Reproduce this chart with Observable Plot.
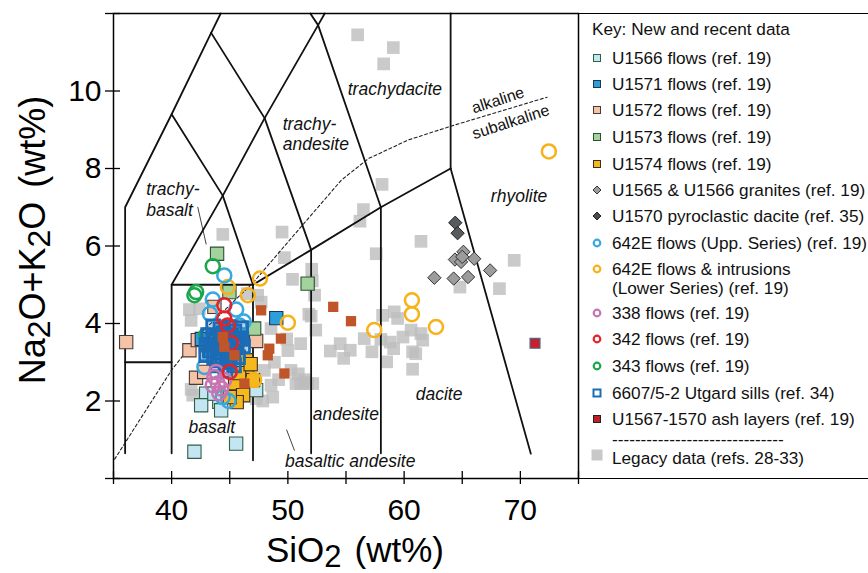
<!DOCTYPE html>
<html><head><meta charset="utf-8">
<script src="https://cdn.jsdelivr.net/npm/d3@7"></script>
<script src="https://cdn.jsdelivr.net/npm/@observablehq/plot@0.6"></script>
<style>
body{margin:0;background:#fff;}
#wrap{position:relative;width:868px;height:573px;overflow:hidden;font-family:"Liberation Sans",Arial,Helvetica,sans-serif;}
#legend{position:absolute;left:578px;top:13px;width:300px;height:466px;border-top:1.5px solid #000;border-bottom:1.5px solid #000;box-sizing:border-box;}
.item{position:absolute;left:34px;font-size:17.2px;line-height:20px;color:#111;white-space:nowrap;}
.sw{position:absolute;left:12px;}
</style></head><body><div id="wrap"></div>
<script>
// ---------- axes ----------
const xTicks = [35,40,45,50,55,60,65,70,75];
const xLabels = [40,50,60,70];
const yTicks = [0,2,4,6,8,10,12];
const yLabels = [2,4,6,8,10];

// ---------- TAS field boundaries (as drawn, SiO2, Na2O+K2O) ----------
const tasBoundaries = [
  [[36,0.65],[36,7],[40,9.4],[43.4,11.5],[44.22,12]],
  [[36,3],[40,3]],
  [[40,0.65],[40,5],[44.4,7.3],[48,9.3],[52.6,11.7],[53.17,12]],
  [[40,9.4],[44.4,7.3]],
  [[40,5],[47,5],[52,5.9],[58,7],[64,8]],
  [[44.4,7.3],[47,5]],
  [[48,9.3],[52,5.9]],
  [[43.4,11.5],[48,9.3]],
  [[51.93,12],[52.6,11.7],[58,7]],
  [[64,8],[64,12]],
  [[47,0.47],[47,5]],
  [[52,0.65],[52,5.9]],
  [[58,0.65],[58,7]],
  [[64,8],[70.9,0.64]]
];
const leaderLines = [
  [[42.25,7.0],[42.97,6.05]],
  [[49.9,1.25],[50.56,0.73]]
];
const alkalineLine = [[35.1,0.5],[40,2.8],[42.5,3.75],[47,5.05],[50,6.1],[54.6,7.7],[56.9,8.25],[60.3,8.73],[64,9.09],[72.3,9.84]];

const fieldLabels = [
  {t:"trachydacite", x:55.15, y:10.03},
  {t:"trachy-", x:49.56, y:9.13},
  {t:"andesite", x:49.56, y:8.61},
  {t:"trachy-", x:37.81, y:7.45},
  {t:"basalt", x:37.81, y:6.92},
  {t:"rhyolite", x:67.46, y:7.28},
  {t:"dacite", x:61.0, y:2.16},
  {t:"andesite", x:52.14, y:1.65},
  {t:"basaltic andesite", x:49.76, y:0.45},
  {t:"basalt", x:41.45, y:1.32}
];
const seriesLabels = [
  {t:"alkaline", x:68.07, y:9.76},
  {t:"subalkaline", x:69.18, y:9.2}
];

// ---------- data (SiO2 wt%, Na2O+K2O wt%) ----------
const legacy = [
  [56.0,11.45],[59.07,11.12],[58.24,10.70],
  [58.1,7.59],[56.5,6.94],[56.2,6.64],[61.45,6.12],[57.6,5.80],[52.05,5.40],[52.1,5.1],
  [69.47,5.63],[68.2,4.90],[64.8,4.94],
  [52.0,4.19],[59.15,4.30],[59.44,4.13],[58.15,4.21],[52.4,3.83],[51.1,3.48],
  [56.57,3.61],[54.5,3.48],[53.65,3.29],[55.37,3.31],[54.8,3.10],[57.23,3.27],[58.0,3.59],
  [58.8,3.52],[59.1,3.35],[58.5,3.01],[60.6,3.83],[59.9,3.65],[61.45,3.74],[61.6,3.57],
  [60.73,3.27],[61.0,3.22],[60.73,2.82],
  [51.48,2.49],[52.14,2.45],[51.1,2.45],[51.7,2.45],[51.4,2.55],[50.9,2.7],
  [44.4,6.30],[49.5,6.36],[49.7,5.70],[50.4,5.14],[46.5,4.77],[47.4,4.73],[47.7,4.55],
  [41.53,4.36],[42.39,4.38],[41.68,4.08],[51.8,4.24],[52.3,4.73],
  [48.55,3.87],[48.84,3.0],[47.98,2.79],[50.27,2.79],[50.7,2.45],[48.55,2.41],
  [47.27,2.06],[47.84,2.0],[48.7,2.1],[41.82,2.15],[41.68,2.3],[49.2,2.55],[50.0,3.3],[49.9,3.6]
];
const u1566 = [[42.97,2.19],[42.54,1.89],[44.1,1.98],[44.26,1.76],[47.27,2.28],[41.96,0.69],[45.55,0.90],[43.68,2.19]];
const u1571 = [[49.0,4.14],[43.25,3.31],[42.6,3.6]];
const u1572 = [[36.09,3.52],[41.53,3.31],[42.1,2.6],[43.68,4.43],[47.27,3.55],[42.25,3.57],[42.8,2.75]];
const u1573 = [[43.91,5.80],[44.97,4.81],[47.1,3.87],[51.7,5.03]];
const u1574 = [[46.5,2.74],[47.0,2.54],[45.46,2.46],[46.15,2.15],[45.6,1.97],[45.0,2.1],[46.4,3.05],[45.8,2.72],[46.8,2.95]];
const granites = [[65.1,5.85],[64.37,5.65],[64.9,5.59],[66.03,5.67],[67.4,5.37],[62.6,5.18],[64.26,5.16],[65.5,5.2],[65.0,5.72]];
const dacite1570 = [[64.4,6.6],[64.6,6.33]];
const upper642E = [[44.53,5.24],[43.54,4.62],[45.55,4.36],[45.83,3.95],[46.2,4.05],[42.82,2.88],[44.4,2.1],[43.3,4.25],[44.9,2.0]];
const lower642E = [[72.45,8.44],[47.6,5.16],[44.83,4.94],[46.55,4.73],[50.0,4.02],[47.1,2.54],[57.43,3.83],[60.67,4.6],[60.67,4.24],[62.74,3.91]];
const flows338 = [[43.68,2.62],[43.97,2.45],[44.26,2.32],[43.54,2.41],[44.53,2.54],[43.83,2.75],[44.1,2.2]];
const flows342 = [[44.53,4.47],[44.53,4.13],[44.83,3.95],[45.0,2.75],[45.1,3.5]];
const flows343 = [[43.54,5.48],[42.11,4.81],[41.96,4.73],[42.97,3.70]];
const utgard = [[43.14,3.70],[43.83,3.64],[44.43,3.75],[45.12,3.70],[45.81,3.62],[43.40,3.44],[44.09,3.36],
  [44.78,3.44],[45.46,3.39],[46.15,3.41],[42.97,3.18],[43.65,3.13],[44.34,3.15],[45.03,3.21],[45.72,3.13],
  [43.91,2.92],[44.78,3.00],[45.37,2.92],[44.62,2.78],[43.57,3.93],[44.94,3.90],[45.98,3.88],
  [43.6,3.55],[44.3,3.5],[45.0,3.55],[45.6,3.5],[43.3,3.3],[44.0,3.25],[44.7,3.25],[45.3,3.25],
  [44.0,3.05],[45.0,3.05],[43.0,3.45],[46.0,3.6],[44.2,3.85],[45.4,3.8]];
const ashBrown = [[47.7,4.34],[53.9,4.43],[55.43,4.06],[49.4,3.61],[48.4,3.35],[48.27,3.18],[49.7,2.71],[46.26,2.45],[45.4,3.18],[44.4,3.65],[44.53,3.4]];
const ash = [[71.26,3.49]];

// ---------- build ----------
const X = d => d[0], Y = d => d[1];
const tasTable = tasBoundaries.flatMap((l,i) => l.map(p => ({x:p[0], y:p[1], id:i})));
const leaderTable = leaderLines.flatMap((l,i) => l.map(p => ({x:p[0], y:p[1], id:i})));
const font = "'Liberation Sans', Arial, Helvetica, sans-serif";
const sq = (data, fill, stroke) => Plot.dot(data, {x:X, y:Y, symbol:"square", r:7.5, fill, stroke, strokeWidth:1.1});
const ring = (data, stroke) => Plot.dot(data, {x:X, y:Y, symbol:"circle", r:7, fill:"none", stroke, strokeWidth:2.5});

const chart = Plot.plot({
  width:868, height:573,
  marginLeft:113, marginRight:290, marginTop:13, marginBottom:95,
  x:{domain:[35,75]}, y:{domain:[0,12]},
  style:{fontFamily:font, background:"transparent", color:"#000"},
  marks:[
    Plot.dot(legacy, {x:X, y:Y, symbol:"square", r:7.15, fill:"#bdbdbd", fillOpacity:0.8}),
    Plot.line(tasTable, {x:"x", y:"y", z:"id", stroke:"#111", strokeWidth:1.8}),
    Plot.line(leaderTable, {x:"x", y:"y", z:"id", stroke:"#111", strokeWidth:0.8}),
    Plot.line(alkalineLine, {x:X, y:Y, stroke:"#222", strokeWidth:1.1, strokeDasharray:"3,2.5"}),
    Plot.text(fieldLabels, {x:"x", y:"y", text:"t", textAnchor:"start", fontSize:17.5, fontStyle:"italic", fill:"#111"}),
    Plot.text(seriesLabels, {x:"x", y:"y", text:"t", textAnchor:"middle", fontSize:16, rotate:-18, fill:"#111"}),
    sq(u1566, "#c3e6f2", "#2f5f45"),
    sq(u1572, "#f5c3a8", "#4a3a35"),
    sq(u1573, "#a3d39c", "#2f4f35"),
    sq(u1574, "#f6b81f", "#3a3020"),
    sq(u1571, "#2b9fd9", "#1f3550"),
    Plot.dot(granites, {x:X, y:Y, symbol:"diamond2", r:6, fill:"#9c9c9c", stroke:"#333", strokeWidth:1}),
    Plot.dot(dacite1570, {x:X, y:Y, symbol:"diamond2", r:6, fill:"#575b5d", stroke:"#222", strokeWidth:1}),
    ring(lower642E, "#f7b21a"),
    ring(upper642E, "#36a9e1"),
    ring(flows343, "#1aa64a"),
    Plot.dot(utgard, {x:X, y:Y, symbol:"square", r:7.2, fill:"#1b6cb5", fillOpacity:0.3, stroke:"#1b6cb5", strokeWidth:2.8}),
    ring(flows338, "#c774b2"),
    ring(flows342, "#e42329"),
    Plot.dot(ashBrown, {x:X, y:Y, symbol:"square", r:5.8, fill:"#c0552a"}),
    Plot.dot(ash, {x:X, y:Y, symbol:"square", r:5.6, fill:"#c8202a", stroke:"#4a6a8a", strokeWidth:1.2}),
    Plot.frame({stroke:"#000", strokeWidth:1.5}),
    Plot.axisX({ticks:xTicks, tickSize:13, dy:-7, tickFormat:() => "", label:null, strokeWidth:1.3}),
    Plot.axisX({ticks:xLabels, tickSize:0, tickPadding:20, fontSize:30, label:null, fill:"#000"}),
    Plot.axisY({ticks:yTicks, tickSize:15, dx:7, tickFormat:() => "", label:null, strokeWidth:1.3}),
    Plot.axisY({ticks:yLabels, tickSize:0, tickPadding:12, fontSize:30, label:null, fill:"#000"})
  ]
});

const wrap = document.getElementById("wrap");
wrap.appendChild(chart);

// axis titles with lowered "2"
const svg = d3.select(chart);
const xt = svg.append("text").attr("x",355).attr("y",562).attr("text-anchor","middle")
  .attr("font-size",35).attr("font-family",font).attr("fill","#000");
xt.append("tspan").text("SiO");
xt.append("tspan").attr("dy",5).attr("font-size",31).text("2");
xt.append("tspan").attr("dy",-5).attr("dx",13).text("(wt%)");
const yt = svg.append("text").attr("transform","translate(45,240) rotate(-90)").attr("text-anchor","middle")
  .attr("font-size",36).attr("font-family",font).attr("fill","#000");
yt.append("tspan").text("Na");
yt.append("tspan").attr("dy",5).attr("font-size",32).text("2");
yt.append("tspan").attr("dy",-5).text("O+K");
yt.append("tspan").attr("dy",5).attr("font-size",32).text("2");
yt.append("tspan").attr("dy",-5).text("O");
yt.append("tspan").attr("dx",14).text("(wt%)");

// ---------- legend ----------
const legendItems = [
  {label:["U1566 flows (ref. 19)"], type:"square", fill:"#c3e6f2", stroke:"#2f5f45", cy:56.7},
  {label:["U1571 flows (ref. 19)"], type:"square", fill:"#2b9fd9", stroke:"#1f3550", cy:83.3},
  {label:["U1572 flows (ref. 19)"], type:"square", fill:"#f5c3a8", stroke:"#4a3a35", cy:109.3},
  {label:["U1573 flows (ref. 19)"], type:"square", fill:"#a3d39c", stroke:"#2f4f35", cy:136},
  {label:["U1574 flows (ref. 19)"], type:"square", fill:"#f6b81f", stroke:"#3a3020", cy:162.7},
  {label:["U1565 & U1566 granites (ref. 19)"], type:"diamond", fill:"#9c9c9c", stroke:"#333", cy:189.3},
  {label:["U1570 pyroclastic dacite (ref. 35)"], type:"diamond", fill:"#474b4d", stroke:"#222", cy:215},
  {label:["642E flows (Upp. Series) (ref. 19)"], type:"ring", stroke:"#36a9e1", cy:241.7},
  {label:["642E flows & intrusions","(Lower Series) (ref. 19)"], type:"ring", stroke:"#f7b21a", cy:268.3},
  {label:["338 flows (ref. 19)"], type:"ring", stroke:"#c774b2", cy:311.7},
  {label:["342 flows (ref. 19)"], type:"ring", stroke:"#e42329", cy:338.3},
  {label:["343 flows (ref. 19)"], type:"ring", stroke:"#1aa64a", cy:365},
  {label:["6607/5-2 Utgard sills (ref. 34)"], type:"open", stroke:"#1b6cb5", cy:391.7},
  {label:["U1567-1570 ash layers (ref. 19)"], type:"square", fill:"#c01f2a", stroke:"#222", cy:418.3},
  {label:["------------------------------"], type:null, cy:437.5},
  {label:["Legacy data (refs. 28-33)"], type:"legacy", cy:456.7}
];
const legend = document.createElement("div");
legend.id = "legend";
wrap.appendChild(legend);
const top0 = 13;
const title = document.createElement("div");
title.className = "item";
title.style.left = "14px";
title.style.top = (28.3 - top0 - 10) + "px";
title.textContent = "Key: New and recent data";
legend.appendChild(title);
for (const it of legendItems) {
  it.label.forEach((line, i) => {
    const d = document.createElement("div");
    d.className = "item";
    d.style.top = (it.cy - top0 - 10 + i * 18.4) + "px";
    d.textContent = line;
    legend.appendChild(d);
  });
  if (!it.type) continue;
  const s = d3.create("svg").attr("class","sw").attr("width",14).attr("height",14)
    .style("top", (it.cy - top0 - 7 - (it.type === "legacy" ? 2.5 : 0)) + "px");
  if (it.type === "square") s.append("rect").attr("x",3.5).attr("y",3.5).attr("width",7).attr("height",7).attr("fill",it.fill).attr("stroke",it.stroke).attr("stroke-width",1);
  if (it.type === "open") s.append("rect").attr("x",3.5).attr("y",3.5).attr("width",7).attr("height",7).attr("fill","#fff").attr("stroke",it.stroke).attr("stroke-width",2);
  if (it.type === "diamond") s.append("path").attr("d","M7,3 L11,7 L7,11 L3,7Z").attr("fill",it.fill).attr("stroke",it.stroke).attr("stroke-width",1);
  if (it.type === "ring") s.append("circle").attr("cx",7).attr("cy",7).attr("r",3.3).attr("fill","#fff").attr("stroke",it.stroke).attr("stroke-width",2.2);
  if (it.type === "legacy") s.append("rect").attr("x",1.5).attr("y",1.5).attr("width",11).attr("height",11).attr("fill","#c8c8c8");
  legend.appendChild(s.node());
}
</script>
</body></html>
